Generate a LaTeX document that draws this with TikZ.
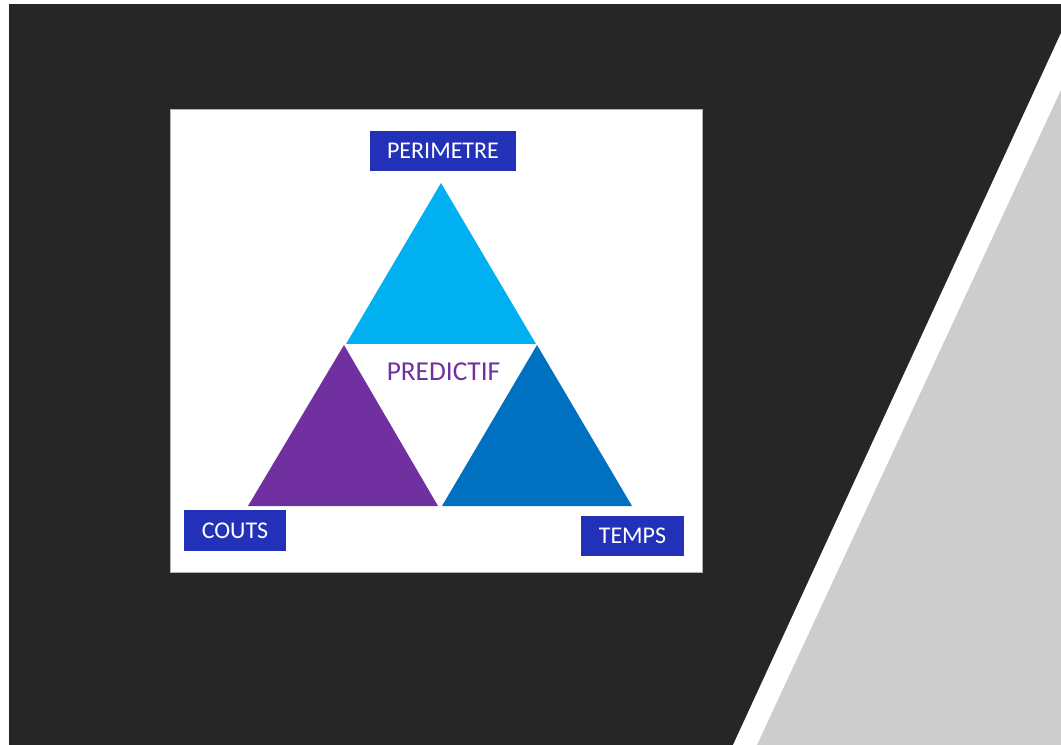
\documentclass[tikz,border=0pt]{standalone}
\usepackage{fontspec}
\setmainfont{Carlito}
\definecolor{darkbg}{HTML}{262626}
\definecolor{lightgray}{HTML}{CDCDCD}
\definecolor{cyanT}{HTML}{00B0F0}
\definecolor{purpleT}{HTML}{7030A0}
\definecolor{blueT}{HTML}{0070C0}
\definecolor{labelbox}{HTML}{2231B8}
\tikzset{
  lbl/.style={fill=labelbox, text=white, font=\fontsize{18}{20}\selectfont, inner sep=0pt, anchor=center},
}
\begin{document}
\begin{tikzpicture}[x=0.75pt,y=-0.75pt]
\useasboundingbox (0,0) rectangle (1061,745);
\fill[white] (0,0) rectangle (1061,745);
\fill[darkbg] (9,4) rectangle (1061,745);
% white stripe and gray region
\fill[white] (1062,33) -- (1061,33) -- (733,745) -- (1061,745) -- cycle;
\fill[lightgray] (1061,90) -- (757,745) -- (1061,745) -- cycle;
% panel
\node[draw=gray!60, fill=white, line width=0.5pt, minimum width=532*0.75pt, minimum height=463*0.75pt, inner sep=0pt] (panel) at (436,340.5) {};
% triangles
\fill[cyanT] (441,183) -- (536,344) -- (346,344) -- cycle;
\fill[purpleT] (344,345) -- (438,506) -- (248,506) -- cycle;
\fill[blueT] (537,345) -- (632,506) -- (442,506) -- cycle;
% labels
\node[lbl, minimum width=146*0.75pt, minimum height=40*0.75pt] (per) at (443,151) {\raisebox{-1pt}{PERIMETRE}};
\node[lbl, minimum width=102*0.75pt, minimum height=41*0.75pt] (cou) at (235,530.5) {\raisebox{-1pt}{COUTS}};
\node[lbl, minimum width=103*0.75pt, minimum height=40*0.75pt] (tem) at (632.5,536) {\raisebox{-1pt}{TEMPS}};
\node[text=purpleT, font=\fontsize{20.5}{22}\selectfont, inner sep=0pt] (pred) at (443.5,372) {PREDICTIF};
\end{tikzpicture}
\end{document}
